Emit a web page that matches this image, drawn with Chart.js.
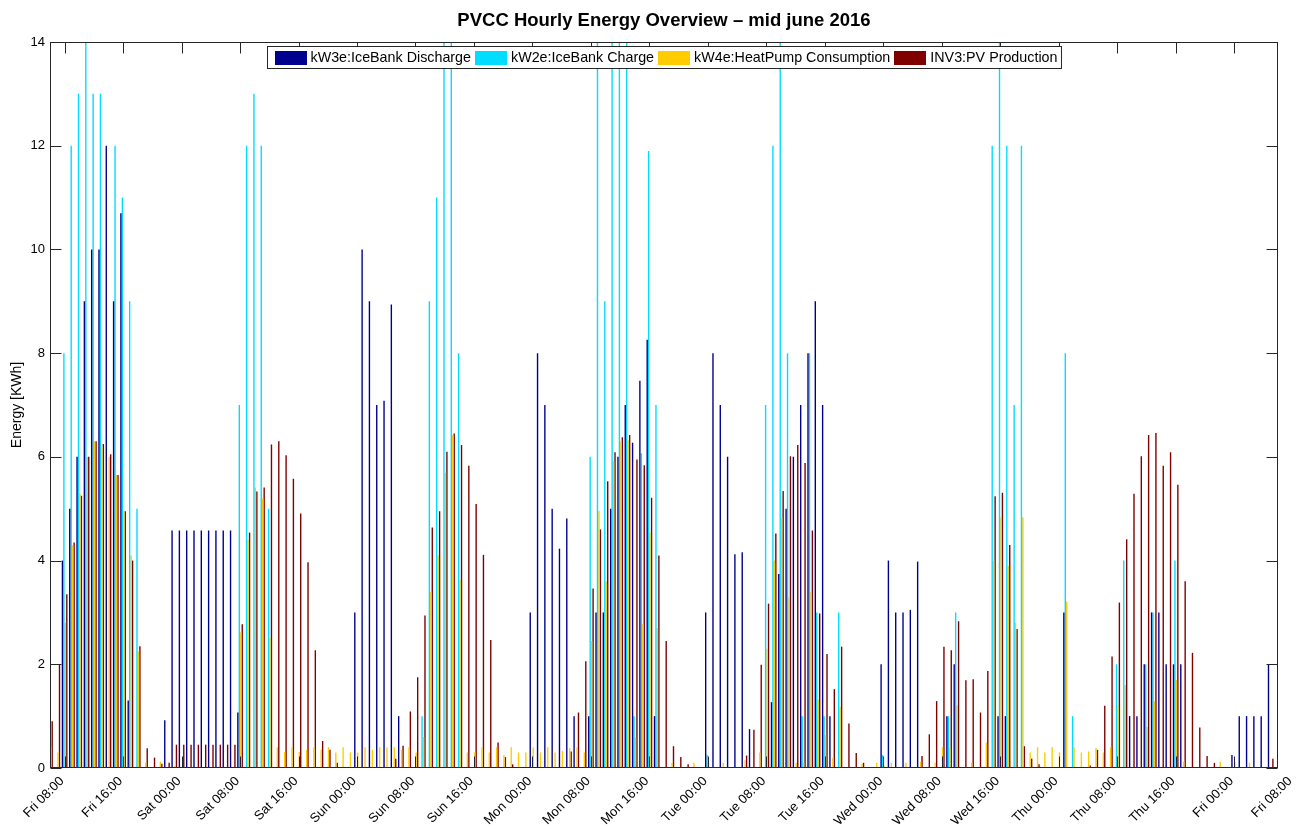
<!DOCTYPE html>
<html>
<head>
<meta charset="utf-8">
<title>PVCC Hourly Energy Overview</title>
<script src="https://cdn.jsdelivr.net/npm/chart.js@4.4.0/dist/chart.umd.min.js"></script>
<style>
  html, body { margin: 0; padding: 0; background: #fff; }
</style>
</head>
<body>
<canvas id="chart" width="1311" height="829"></canvas>
<script>
// hour index 0 = Fri 06:00, one bar group per hour (168 hours)
const hours = Array.from({ length: 168 }, (_, i) => i);

const tickHours = [2, 10, 18, 26, 34, 42, 50, 58, 66, 74, 82, 90, 98, 106, 114, 122, 130, 138, 146, 154, 162, 170];
const tickLabels = ['Fri 08:00', 'Fri 16:00', 'Sat 00:00', 'Sat 08:00', 'Sat 16:00', 'Sun 00:00', 'Sun 08:00', 'Sun 16:00',
  'Mon 00:00', 'Mon 08:00', 'Mon 16:00', 'Tue 00:00', 'Tue 08:00', 'Tue 16:00', 'Wed 00:00', 'Wed 08:00', 'Wed 16:00',
  'Thu 00:00', 'Thu 08:00', 'Thu 16:00', 'Fri 00:00', 'Fri 08:00'];
const yTicks = [0, 2, 4, 6, 8, 10, 12, 14];

// kW3e: IceBank Discharge
const iceDischarge = [
  0, 0, 4.0, 5.0, 6.0, 9.0, 10.0, 10.0,
  12.0, 9.0, 10.7, 1.3, 0, 0, 0, 0,
  0.92, 4.58, 4.58, 4.58, 4.58, 4.58, 4.58, 4.58,
  4.58, 4.58, 1.07, 0, 0, 0, 0, 0,
  0, 0, 0, 0, 0, 0, 0, 0,
  0, 0, 3.0, 10.0, 9.0, 7.0, 7.08, 8.94,
  1.0, 0, 0, 0, 0, 0, 0, 0,
  0, 0, 0, 0, 0, 0, 0, 0,
  0, 0, 3.0, 8.0, 7.0, 5.0, 4.23, 4.81,
  1.0, 0, 1.0, 3.0, 3.0, 5.0, 6.0, 7.0,
  6.27, 7.47, 8.26, 1.0, 0, 0, 0, 0,
  0, 0, 3.0, 8.0, 7.0, 6.0, 4.12, 4.16,
  0.75, 0, 0, 1.27, 3.74, 5.0, 6.0, 7.0,
  8.0, 9.0, 7.0, 1.0, 0, 0, 0, 0,
  0, 0, 2.0, 4.0, 3.0, 3.0, 3.05, 3.98,
  0, 0, 0, 1.0, 2.0, 0, 0, 0,
  0, 0, 1.0, 1.0, 0, 0, 0, 0,
  0, 0, 0, 3.0, 0, 0, 0, 0,
  0, 0, 0, 0, 1.0, 1.0, 2.0, 3.0,
  3.0, 2.0, 2.0, 2.0, 0, 0, 0, 0,
  0, 0, 0.25, 1.0, 1.0, 1.0, 1.0, 2.0
];

// kW2e: IceBank Charge (values above 14 run off the top)
const iceCharge = [
  0, 0, 8, 12, 13, 15, 13, 13,
  0, 12, 11, 9, 5, 0, 0, 0,
  0, 0, 0, 0, 0, 0, 0, 0,
  0, 0, 7, 12, 13, 12, 5, 0,
  0, 0, 0, 0, 0, 0, 0, 0,
  0, 0, 0, 0, 0, 0, 0, 0,
  0, 0, 0, 1.0, 9, 11, 15, 15,
  8, 0, 0, 0, 0, 0, 0, 0,
  0, 0, 0, 0, 0, 0, 0, 0,
  0, 0, 6, 15, 9, 15, 15, 15,
  1.0, 6.07, 11.9, 7.0, 0, 0, 0, 0,
  0, 0, 0.25, 0, 0, 0, 0, 0,
  0, 0, 7, 12, 15, 8, 0, 1.0,
  8, 3, 1.0, 0, 3.0, 0, 0, 0,
  0, 0, 0.25, 0, 0, 0, 0, 0,
  0, 0, 0, 1.0, 3.0, 0, 0, 0,
  0, 12, 15, 12, 7, 12, 0, 0,
  0, 0, 0, 8, 1.0, 0, 0, 0,
  0, 0, 2.0, 4.0, 0, 0, 2.0, 3.0,
  0, 0, 4.0, 0, 0, 0, 0, 0,
  0, 0, 0, 0, 0, 0, 0, 0
];

// kW4e: HeatPump Consumption
const heatPump = [
  0.4, 0.3, 2.8, 4.3, 5.3, 6.0, 6.3, 6.2,
  6.0, 5.65, 4.95, 4.1, 2.25, 0.1, 0, 0.12,
  0, 0.05, 0, 0, 0, 0, 0, 0,
  0, 0, 2.62, 4.4, 5.41, 5.2, 2.51, 0.4,
  0.31, 0.4, 0.31, 0.35, 0.4, 0.35, 0.4, 0.3,
  0.4, 0.3, 0.3, 0.4, 0.35, 0.4, 0.4, 0.4,
  0.35, 0.4, 0.3, 0.6, 3.4, 4.1, 5.7, 6.42,
  3.63, 0.3, 0.3, 0.4, 0.3, 0.4, 0.25, 0.4,
  0.3, 0.3, 0.4, 0.3, 0.4, 0.3, 0.33, 0.38,
  0.4, 0.3, 2.45, 4.96, 3.6, 5.92, 6.3, 6.32,
  0.6, 2.77, 4.54, 2.7, 0, 0.1, 0, 0,
  0.1, 0, 0.1, 0, 0.1, 0, 0, 0.15,
  0, 0.3, 2.3, 4.0, 4.83, 3.29, 0.1, 0.1,
  3.4, 1.32, 0.63, 0.2, 1.18, 0, 0, 0.08,
  0, 0.1, 0.05, 0.1, 0, 0.1, 0, 0.12,
  0, 0.1, 0.4, 0.4, 1.21, 0, 0.1, 0,
  0.49, 4.0, 4.83, 3.9, 2.8, 4.83, 0.3, 0.4,
  0.3, 0.4, 0.3, 3.21, 0.4, 0.3, 0.32, 0.38,
  0.3, 0.4, 1.21, 1.6, 0, 0, 0.79, 1.29,
  0, 0, 1.7, 0.12, 0, 0, 0, 0,
  0.12, 0, 0.12, 0, 0.1, 0, 0, 0
];

// INV3: PV Production
const pvProduction = [
  0.9, 2.0, 3.35, 4.35, 5.25, 6.0, 6.3, 6.25,
  6.05, 5.65, 4.95, 4.0, 2.35, 0.38, 0.2, 0.08,
  0.1, 0.45, 0.45, 0.45, 0.45, 0.45, 0.45, 0.45,
  0.45, 0.45, 2.77, 4.54, 5.33, 5.41, 6.24, 6.3,
  6.03, 5.58, 4.91, 3.97, 2.27, 0.52, 0.35, 0.1,
  0, 0, 0, 0, 0, 0, 0, 0.18,
  0.43, 1.09, 1.75, 2.94, 4.64, 4.95, 6.1, 6.45,
  6.23, 5.83, 5.09, 4.11, 2.47, 0.49, 0.21, 0.07,
  0, 0, 0, 0, 0, 0, 0, 0.32,
  1.07, 2.06, 3.46, 4.6, 5.53, 6.09, 6.38, 6.42,
  5.95, 5.84, 5.21, 4.1, 2.45, 0.42, 0.21, 0.07,
  0, 0, 0, 0, 0, 0, 0, 0.24,
  0.74, 1.99, 3.17, 4.52, 5.34, 6.01, 6.23, 5.88,
  4.58, 2.98, 2.2, 1.52, 2.34, 0.86, 0.29, 0.1,
  0, 0, 0, 0, 0, 0, 0, 0.23,
  0.65, 1.29, 2.34, 2.27, 2.83, 1.69, 1.71, 1.07,
  1.87, 5.24, 5.31, 4.3, 2.68, 0.42, 0.18, 0.07,
  0, 0, 0, 0, 0, 0, 0.05, 0.35,
  1.2, 2.15, 3.19, 4.41, 5.29, 6.01, 6.42, 6.46,
  5.83, 6.09, 5.46, 3.6, 2.22, 0.78, 0.23, 0.1,
  0, 0, 0, 0, 0, 0, 0, 0.18
];

const FONT = '"Liberation Sans", Arial, Helvetica, sans-serif';
const AXIS_COLOR = '#262626';

// box, inward ticks and the framed legend drawn on top of the bars
const framePlugin = {
  id: 'frame',
  afterDatasetsDraw(chart) {
    const { ctx, chartArea: a, scales: { x, y } } = chart;
    const L = Math.round(a.left) + 0.5, R = Math.round(a.right) - 0.5;
    const T = Math.round(a.top) + 0.5, B = Math.round(a.bottom) - 0.5;
    const tick = 11;
    ctx.save();
    ctx.strokeStyle = AXIS_COLOR;
    ctx.lineWidth = 1;
    ctx.beginPath();
    yTicks.forEach(v => {
      const py = Math.round(y.getPixelForValue(v)) + 0.5;
      ctx.moveTo(L, py); ctx.lineTo(L + tick, py);
      ctx.moveTo(R, py); ctx.lineTo(R - tick, py);
    });
    tickHours.forEach(h => {
      if (h > x.max) return;
      const px = Math.round(x.getPixelForValue(h)) + 0.5;
      ctx.moveTo(px, T); ctx.lineTo(px, T + tick);
      ctx.moveTo(px, B); ctx.lineTo(px, B - tick);
    });
    ctx.stroke();
    ctx.strokeRect(L, T, R - L, B - T);

    // legend
    ctx.font = '14.3px ' + FONT;
    const boxW = 32, boxH = 14, gapText = 4, gapItem = 4, padL = 7, padR = 4, h = 22;
    const items = chart.data.datasets.map(ds => ({
      text: ds.label, color: ds.backgroundColor, w: ctx.measureText(ds.label).width
    }));
    const inner = items.reduce((s, it) => s + boxW + gapText + it.w, 0) + gapItem * (items.length - 1);
    const totalW = inner + padL + padR;
    const lx = Math.round((a.left + a.right) / 2 - totalW / 2) + 0.5;
    const ly = Math.round(a.top) + 4.5;
    ctx.fillStyle = '#fff';
    ctx.fillRect(lx, ly, totalW, h);
    ctx.strokeStyle = AXIS_COLOR;
    ctx.strokeRect(lx, ly, totalW, h);
    let cx = lx + padL;
    const midY = ly + h / 2;
    ctx.textBaseline = 'middle';
    ctx.textAlign = 'left';
    items.forEach(it => {
      ctx.fillStyle = it.color;
      ctx.fillRect(Math.round(cx), Math.round(midY - boxH / 2), boxW, boxH);
      ctx.fillStyle = '#000';
      ctx.fillText(it.text, cx + boxW + gapText, midY + 0.5);
      cx += boxW + gapText + it.w + gapItem;
    });
    ctx.restore();
  }
};

new Chart(document.getElementById('chart'), {
  type: 'bar',
  data: {
    labels: hours,
    datasets: [
      { label: 'kW3e:IceBank Discharge', data: iceDischarge, backgroundColor: '#00008F' },
      { label: 'kW2e:IceBank Charge', data: iceCharge, backgroundColor: '#00DDFF' },
      { label: 'kW4e:HeatPump Consumption', data: heatPump, backgroundColor: '#FFCC00' },
      { label: 'INV3:PV Production', data: pvProduction, backgroundColor: '#800000' }
    ]
  },
  options: {
    responsive: false,
    animation: false,
    datasets: { bar: { categoryPercentage: 0.8, barPercentage: 0.95 } },
    layout: { padding: { left: 0, right: 33, top: 0, bottom: 0 } },
    plugins: {
      legend: { display: false },
      tooltip: { enabled: false },
      title: {
        display: true,
        text: 'PVCC Hourly Energy Overview \u2013 mid june 2016',
        color: '#000',
        font: { family: FONT, size: 18.5, weight: 'bold' },
        padding: { top: 10, bottom: 9.8 },
        fullSize: false
      }
    },
    scales: {
      x: {
        type: 'linear',
        min: 0,
        max: 168,
        offset: false,
        grid: { display: false, drawTicks: false },
        border: { display: false },
        afterBuildTicks: s => { s.ticks = tickHours.map(v => ({ value: v })); },
        afterFit: s => { s.height = 61; s.paddingLeft = 0; s.paddingRight = 0; },
        ticks: {
          autoSkip: false,
          minRotation: 45,
          maxRotation: 45,
          padding: 3,
          color: '#000',
          font: { family: FONT, size: 13 },
          // trailing space nudges the rotated label a little left of the tick, as in MATLAB
          callback: (v, i) => tickLabels[i] + ' '
        }
      },
      y: {
        min: 0,
        max: 14,
        grid: { display: false, drawTicks: false },
        border: { display: false },
        afterFit: s => { s.width = 50; },
        ticks: {
          stepSize: 2,
          padding: 5,
          color: '#000',
          font: { family: FONT, size: 13 }
        },
        title: {
          display: true,
          text: 'Energy [KWh]',
          color: '#000',
          font: { family: FONT, size: 14 },
          padding: { top: 9, bottom: 0 }
        }
      }
    }
  },
  plugins: [framePlugin]
});
</script>
</body>
</html>
